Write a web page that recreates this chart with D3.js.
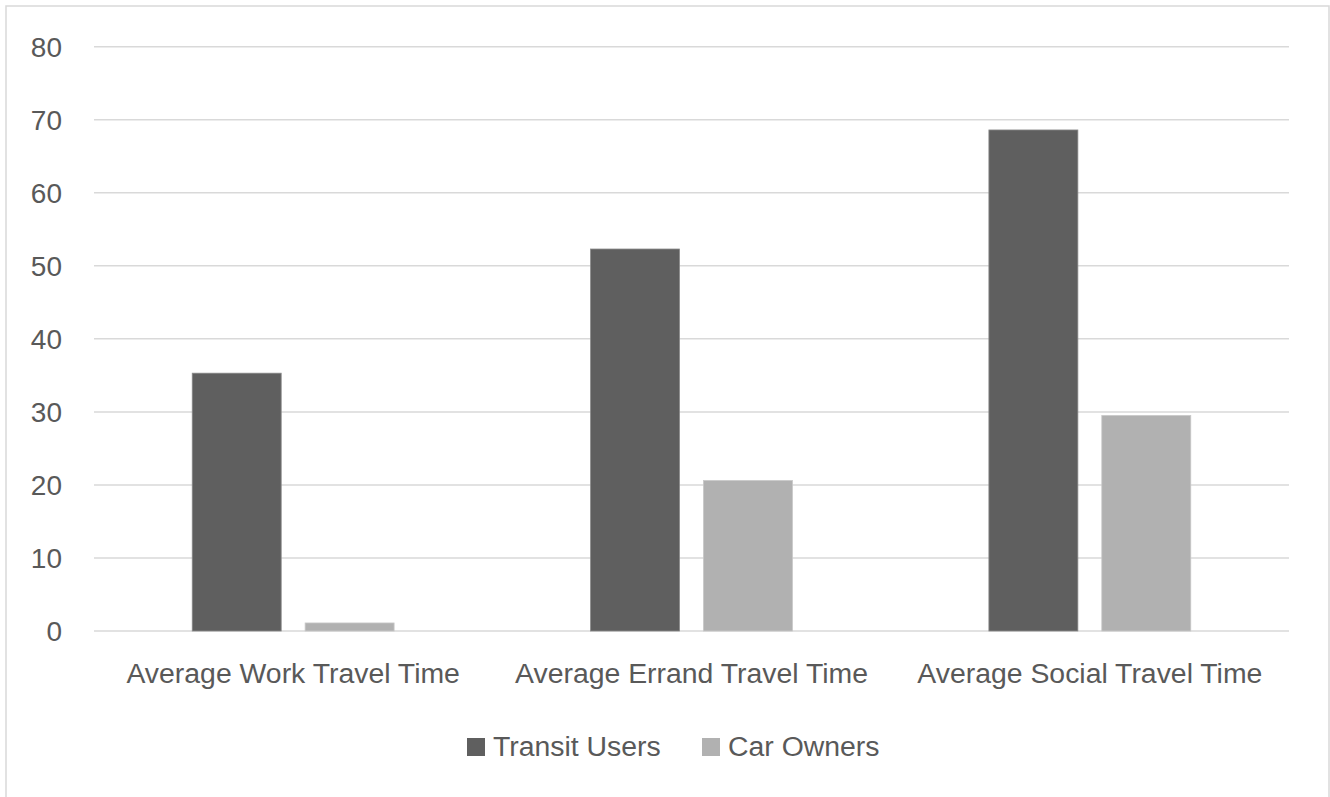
<!DOCTYPE html>
<html>
<head>
<meta charset="utf-8">
<script src="https://cdn.jsdelivr.net/npm/d3@7"></script>
<style>
  html, body { margin: 0; padding: 0; background: #fff; }
  svg { display: block; font-family: 'Liberation Sans', Arial, sans-serif; }
</style>
</head>
<body>
<div id="chart"></div>
<script>
const categories = ['Average Work Travel Time', 'Average Errand Travel Time', 'Average Social Travel Time']
const seriesNames = ['Transit Users', 'Car Owners']
const transitUsers = [35.3, 52.3, 68.6]
const carOwners = [1.1, 20.6, 29.5]
const yTicks = [0, 10, 20, 30, 40, 50, 60, 70, 80]

const W = 1330
const H = 797
const margin = { top: 46.7, left: 94, right: 41, bottom: 166 }

const colors = d3.scaleOrdinal().domain(seriesNames).range(['#5f5f5f', '#b1b1b1'])
const strokes = d3.scaleOrdinal().domain(seriesNames).range(['#8a8a8a', '#c8c8c8'])

const rows = categories.map((c, i) => ({
  category: c,
  values: [
    { key: 'Transit Users', value: transitUsers[i] },
    { key: 'Car Owners', value: carOwners[i] }
  ]
}))

const svg = d3.select('#chart').append('svg')
  .attr('width', W)
  .attr('height', H)

// outer chart frame (bottom edge is cut off in the picture)
svg.append('rect')
  .attr('x', 6).attr('y', 6)
  .attr('width', 1323).attr('height', H + 20)
  .attr('fill', 'none')
  .attr('stroke', '#d9d9d9')
  .attr('stroke-width', 1.5)

const x0 = d3.scaleBand()
  .domain(categories)
  .range([margin.left, W - margin.right])

const x1 = d3.scaleBand()
  .domain(seriesNames)
  .range([0, x0.bandwidth()])
  .paddingInner(0.212)
  .paddingOuter(0.87)

const y = d3.scaleLinear()
  .domain([0, 80])
  .range([H - margin.bottom, margin.top])

// gridlines
svg.append('g')
  .selectAll('line')
  .data(yTicks)
  .join('line')
  .attr('x1', margin.left)
  .attr('x2', W - margin.right)
  .attr('y1', d => y(d))
  .attr('y2', d => y(d))
  .attr('stroke', '#d9d9d9')
  .attr('stroke-width', 1.5)

// y labels
svg.append('g')
  .selectAll('text')
  .data(yTicks)
  .join('text')
  .attr('x', 62)
  .attr('y', d => y(d))
  .attr('dy', '0.36em')
  .attr('text-anchor', 'end')
  .attr('font-size', 28)
  .attr('fill', '#595959')
  .text(d => d)

// bars
svg.append('g')
  .selectAll('g')
  .data(rows)
  .join('g')
  .attr('transform', d => `translate(${x0(d.category)},0)`)
  .selectAll('rect')
  .data(d => d.values)
  .join('rect')
  .attr('x', d => x1(d.key))
  .attr('width', x1.bandwidth())
  .attr('y', d => y(d.value))
  .attr('height', d => y(0) - y(d.value))
  .attr('fill', d => colors(d.key))
  .attr('stroke', d => strokes(d.key))
  .attr('stroke-width', 0.8)

// category labels
svg.append('g')
  .selectAll('text')
  .data(categories)
  .join('text')
  .attr('x', d => x0(d) + x0.bandwidth() / 2)
  .attr('y', 683)
  .attr('text-anchor', 'middle')
  .attr('font-size', 28.4)
  .attr('fill', '#595959')
  .text(d => d)

// legend
const legendX = [467, 702]
const legend = svg.append('g')
  .selectAll('g')
  .data(seriesNames)
  .join('g')
  .attr('transform', (d, i) => `translate(${legendX[i]},738)`)

legend.append('rect')
  .attr('width', 18)
  .attr('height', 18)
  .attr('fill', d => colors(d))

legend.append('text')
  .attr('x', 26)
  .attr('y', 18)
  .attr('font-size', 28.4)
  .attr('fill', '#595959')
  .text(d => d)
</script>
</body>
</html>
